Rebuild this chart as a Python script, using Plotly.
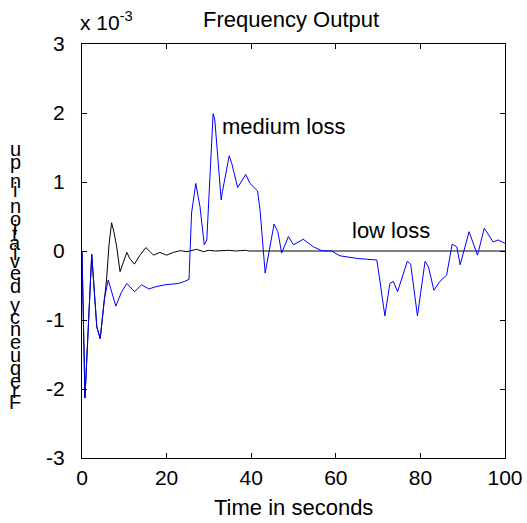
import plotly.graph_objects as go

# ---- data (time in s, frequency deviation in units of 1e-3 pu) ----
t_medium = [0, 0.7, 2.3, 3.5, 4.3, 5.3, 6.2, 8.0, 9.3, 10.6, 12.4, 14.1, 15.8, 17.3, 19.6,
            22.8, 24.3, 25.3, 25.9, 26.9, 27.9, 28.9, 29.5, 30.0, 31.0, 31.4, 32.4, 32.9,
            33.2, 34.8, 35.4, 36.8, 38.7, 39.7, 41.5, 42.1, 43.3, 44.4, 45.4, 46.3, 47.2,
            48.8, 50.0, 52.3, 54.7, 56.7, 59.0, 61.0, 63.0, 65.3, 67.5, 69.7, 70.4, 71.6,
            72.8, 73.6, 74.6, 76.9, 77.7, 79.3, 81.1, 81.9, 83.2, 84.6, 86.2, 87.5, 88.6,
            89.4, 91.5, 93.5, 95.1, 97.2, 98.4, 100.0]
v_medium = [0, -2.13, -0.05, -1.1, -1.27, -0.69, -0.42, -0.8, -0.6, -0.47, -0.59, -0.49, -0.55,
            -0.52, -0.49, -0.47, -0.44, -0.41, 0.55, 0.98, 0.64, 0.09, 0.16, 0.74, 1.99, 1.9,
            1.03, 0.74, 0.86, 1.38, 1.27, 0.92, 1.11, 0.98, 0.87, 0.59, -0.32, 0.06, 0.39,
            0.28, -0.03, 0.21, 0.09, 0.17, 0.06, 0.005, 0.0, -0.07, -0.09, -0.11, -0.12, -0.13,
            -0.42, -0.94, -0.47, -0.44, -0.59, -0.15, -0.19, -0.94, -0.15, -0.23, -0.57, -0.44,
            -0.35, 0.1, 0.06, -0.2, 0.28, -0.06, 0.33, 0.13, 0.16, 0.11]

t_low = [0, 0.7, 2.3, 3.5, 4.3, 5.3, 5.8, 6.4, 7.0, 7.6, 8.2, 9.0, 9.4, 10.6, 11.3, 12.4,
         13.7, 15.1, 16.1, 16.9, 18.4, 19.2, 20.0, 21.6, 23.2, 24.8, 27.1, 28.7, 29.9, 31.5,
         34.7, 36.3, 38.7, 39.5, 42.0, 45.0, 60.0, 80.0, 100.0]
v_low = [0, -2.13, -0.05, -1.1, -1.27, -0.69, -0.42, 0.1, 0.41, 0.26, 0.06, -0.3, -0.23, -0.02,
         -0.11, -0.19, -0.06, 0.05, -0.01, -0.06, -0.02, -0.04, -0.06, -0.02, 0.005, -0.01,
         0.025, -0.01, 0.01, 0.0, 0.01, 0.0, 0.01, 0.0, 0.005, 0.0, 0.0, 0.0, 0.0]

x_ticks = [0, 20, 40, 60, 80, 100]
y_ticks = [-3, -2, -1, 0, 1, 2, 3]
y_ticktext = ["-3", "-2", "-1", "0", "1", "2", "3"]

title_text = "Frequency Output"
xlabel_text = "Time in seconds"
ylabel_text = "Frequency deviation in pu"
label_medium = "medium loss"
label_low = "low loss"

FONT = "Liberation Sans, Arial, Helvetica, sans-serif"

fig = go.Figure()
fig.add_trace(go.Scatter(x=t_low, y=v_low, mode="lines",
                         line=dict(color="black", width=1), showlegend=False))
fig.add_trace(go.Scatter(x=t_medium, y=v_medium, mode="lines",
                         line=dict(color="#0000ff", width=1), showlegend=False))

axis_common = dict(showgrid=False, zeroline=False, showline=True, linecolor="black",
                   linewidth=1, mirror="ticks", ticks="inside", ticklen=5, tickcolor="black",
                   automargin=False,
                   tickfont=dict(size=21, color="black", family=FONT))

fig.update_xaxes(range=[0, 100], tickvals=x_ticks, ticktext=[str(v) for v in x_ticks],
                 ticklabelstandoff=1, **axis_common)
fig.update_yaxes(range=[-3, 3], tickvals=y_ticks, ticktext=y_ticktext,
                 ticklabelstandoff=12, **axis_common)

W, H = 527, 523
ml, mr, mt, mb = 82, 22, 44, 65
pw, ph = W - ml - mr, H - mt - mb


def px_x(p):
    return (p - ml) / pw


def px_y(p):
    return (H - mb - p) / ph


ann = []
ann.append(dict(text=title_text, x=px_x(291), y=px_y(20), xref="paper", yref="paper",
                xanchor="center", yanchor="middle", showarrow=False,
                font=dict(size=22, color="black", family=FONT)))
ann.append(dict(text=xlabel_text, x=0.5, y=px_y(507), xref="paper", yref="paper",
                xanchor="center", yanchor="middle", showarrow=False,
                font=dict(size=22, color="black", family=FONT)))
ann.append(dict(text="x 10<sup>-3</sup>", x=px_x(78), y=px_y(36), xref="paper", yref="paper",
                xanchor="left", yanchor="bottom", showarrow=False,
                font=dict(size=21, color="black", family=FONT)))
ann.append(dict(text=label_medium, x=32.6, y=1.8, xref="x", yref="y",
                xanchor="left", yanchor="middle", showarrow=False,
                font=dict(size=22, color="black", family=FONT)))
ann.append(dict(text=label_low, x=63.3, y=0.3, xref="x", yref="y",
                xanchor="left", yanchor="middle", showarrow=False,
                font=dict(size=22, color="black", family=FONT)))

# stacked vertical y-label: upright glyphs advanced by their own widths, bottom to top
adv = {"F": .611, "r": .333, "e": .556, "q": .556, "u": .556, "n": .556, "c": .5,
       "y": .5, " ": .278, "d": .556, "v": .5, "i": .222, "a": .556, "t": .278,
       "o": .556, "p": .556}
centers = []
acc = 0.0
for ch in ylabel_text:
    w = adv.get(ch, .556)
    centers.append(acc + w / 2)
    acc += w
c0, c1 = centers[0], centers[-1]
y_first, y_last = 402, 149
for ch, c in zip(ylabel_text, centers):
    if ch == " ":
        continue
    ypix = y_first + (c - c0) / (c1 - c0) * (y_last - y_first)
    ann.append(dict(text=ch, x=px_x(15), y=px_y(ypix), xref="paper",
                    yref="paper", xanchor="center", yanchor="middle", showarrow=False,
                    font=dict(size=20, color="black", family=FONT)))

fig.update_layout(width=W, height=H, autosize=False,
                  margin=dict(l=ml, r=mr, t=mt, b=mb, pad=0),
                  paper_bgcolor="white", plot_bgcolor="white",
                  annotations=ann, showlegend=False)

fig.write_html("out.html")
